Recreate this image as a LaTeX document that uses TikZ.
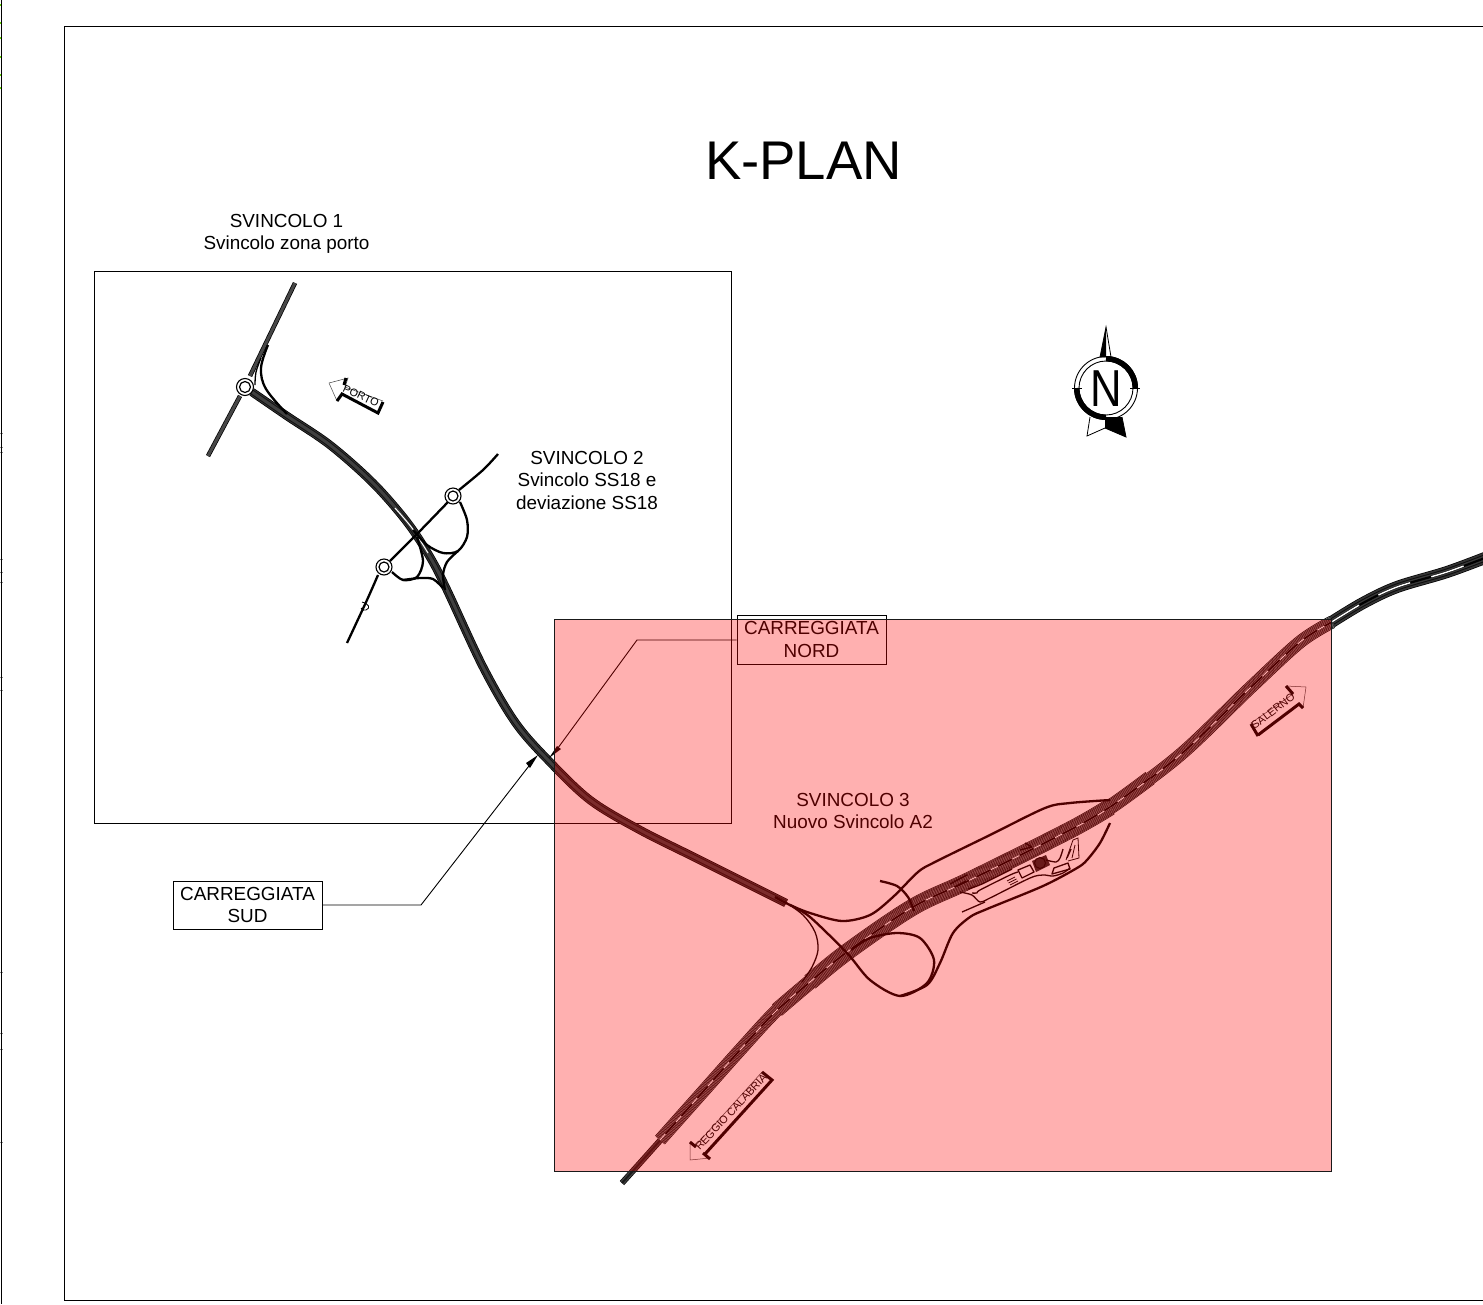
\documentclass[tikz,border=0pt]{standalone}
\usepackage{fontspec}
\setmainfont{Liberation Sans}
\colorlet{gapline}{black!40}
\tikzset{
  frame/.style={draw=black,line width=1pt},
  lbl/.style={align=center,font=\fontsize{18.9}{22.5}\selectfont,inner sep=0pt},
  signtxt/.style={inner sep=0pt,font=\fontsize{10.8}{12}\selectfont},
  thin edge/.style={draw=black!75,line width=.5pt},
  thick edge/.style={draw=black,line width=3pt},
  ramp/.style={draw=black,line width=2.3pt,line join=round},
  ramp2/.style={draw=black,line width=1.3pt,line join=round},
  fine/.style={draw=black,line width=.8pt},
  leader/.style={draw=black,line width=.9pt},
  leadtip/.style={fill=black},
  rbout/.style={draw=black,line width=1.1pt,fill=white},
}
% stripes: concentric dark and light strokes along a path
\newcommand{\stripes}[2]{%
  \foreach \w/\c in {#2}{\draw[line width=\w pt,color=\c,line cap=butt,line join=round] #1;}}
\newcommand{\mainpath}{plot[smooth,tension=.55] coordinates {(252,392) (287,416) (330,445) (373,483) (407,522) (430,557) (447,590) (483,667) (515,722) (548,760) (590,800) (640,830) (700,860) (786,903)}}
\newcommand{\hwtail}{plot[smooth,tension=.55] coordinates {(622,1183) (640,1163) (665,1135)}}
\newcommand{\hwred}{plot[smooth,tension=.55] coordinates {(660,1140) (700,1095) (740,1050) (777,1010) (810,982) (847,952) (913,907) (970,880) (1070,830) (1110,807) (1180,755) (1250,688) (1300,642) (1332,622)}}
\newcommand{\hwwide}{plot[smooth,tension=.55] coordinates {(777,1010) (810,982) (847,952) (913,907) (970,880) (1070,830) (1110,807) (1150,778)}}
\newcommand{\hwmid}{plot[smooth,tension=.55] coordinates {(810,982) (847,952) (913,907) (970,880) (1070,830) (1110,807)}}
\newcommand{\hweast}{plot[smooth,tension=.55] coordinates {(1330,623) (1363,603) (1397,587) (1447,572) (1490,556)}}
\begin{document}
\begin{tikzpicture}[x=1pt,y=-1pt]
\useasboundingbox (0,0) rectangle (1483,1304);
\clip (0,0) rectangle (1483,1304);
\fill[white] (0,0) rectangle (1483,1304);
% sheet edge and ticks
\foreach \y in {5,23,38,57,75,88}{\draw[color=green!55!yellow!85!black,line width=1.2pt] (0,\y) -- (1,\y);}
\foreach \y in {433,447,452,559,572,582,677,690,972,1033,1049,1142}{\draw[color=black!45,line width=.8pt] (0,\y) -- (3,\y);}
\draw[black,line width=1.6pt] (1.4,0) -- (1.4,1304);
% frames
\draw[frame] (1490,26) -- (64,26) -- (64,1300.5) -- (1490,1300.5);
\draw[frame] (94,271) rectangle (731,823);
% roads of svincolo 1 and 2
\stripes{(295,283) -- (250,376)}{4.5/black,3/black!72}
\stripes{(240,396) -- (208,456)}{4.5/black,3/black!72}
\stripes{\mainpath}{8.5/black,7/black!80,5/black!92,3/black!75}
\stripes{plot[smooth,tension=.5] coordinates {(395,508) (412,528) (428,553)}}{1/white}
\draw[ramp] plot[smooth,tension=.6] coordinates {(268,345) (261,368) (266,389) (287,414)};
\draw[ramp2] plot[smooth,tension=.6] coordinates {(261,358) (256,372) (255,385)};
\draw[rbout] (245,387) circle (8.5);
\draw[black,line width=1.2pt] (245,387) circle (5.5);
% svincolo 2
\draw[ramp] plot[smooth,tension=.5] coordinates {(390,561) (417,534) (448,502)};
\draw[ramp] plot[smooth,tension=.5] coordinates {(459,490) (483,470) (498,454)};
\draw[ramp] plot[smooth,tension=.5] coordinates {(378,575) (367,600) (347,643)};
\draw[ramp] plot[smooth,tension=.5] coordinates {(460,502) (467,520) (467,537) (458,551) (443,553) (427,545) (413,530)};
\draw[ramp] plot[smooth,tension=.5] coordinates {(392,572) (403,580) (417,577) (423,561) (417,537)};
\draw[ramp] plot[smooth,tension=.5] coordinates {(403,580) (420,578) (433,579) (443,588)};
\draw[ramp] plot[smooth,tension=.5] coordinates {(458,551) (447,562) (443,575) (445,590)};
\draw[fine] (362,602) .. controls (369,604) and (371,608) .. (366,610) .. controls (364,611) and (362,610) .. (361,608);
\draw[rbout] (453,496) circle (8);
\draw[black,line width=1.2pt] (453,496) circle (5);
\draw[rbout] (384,567) circle (8);
\draw[black,line width=1.2pt] (384,567) circle (5);
% A2 carriageways
\stripes{\hwtail}{6/black,4.6/black!75,2/black!90}
\stripes{\hweast}{12/black,10.6/black!80,7/black!95,5/black!78,2.2/black}
\draw[white,line width=1.4pt,dash pattern=on 34pt off 22pt] \hweast;
\stripes{\hwred}{13/black,11.6/gapline,10.6/black,9.4/gapline,8.4/black,7.2/gapline,6.2/black,5/gapline,4/black,2.8/gapline,1.8/black}
\stripes{\hwwide}{15/black,13.8/gapline,13/black,11.6/gapline,10.6/black,9.4/gapline,8.4/black,7.2/gapline,6.2/black,5/gapline,4/black,2.8/gapline,1.8/black}
\stripes{\hwmid}{17/black,15.8/gapline,15/black,13.8/gapline,13/black,11.6/gapline,10.6/black,9.4/gapline,8.4/black,7.2/gapline,6.2/black,5/gapline,4/black,2.8/gapline,1.8/black}
\draw[white,line width=1pt,dash pattern=on 8pt off 16pt] \hwred;
% interchange ramps
\draw[ramp] plot[smooth,tension=.5] coordinates {(775,897) (790,905) (810,913) (842,921) (870,915) (893,897) (918,872) (935,862) (990,835) (1045,808) (1070,803) (1110,800)};
\draw[ramp2] plot[smooth,tension=.55] coordinates {(785,902) (803,915) (815,932) (818,950) (812,967) (802,982)};
\draw[ramp] plot[smooth,tension=.5] coordinates {(790,905) (810,917) (847,953) (870,980) (900,996) (927,983) (934,960) (920,938) (897,933) (870,938) (851,950)};
\draw[ramp] plot[smooth,tension=.5] coordinates {(900,996) (927,985) (940,963) (953,933) (970,917) (987,909) (1043,886) (1077,868) (1087,860) (1100,843) (1110,823)};
\draw[ramp] plot[smooth,tension=.5] coordinates {(880,881) (897,886) (908,897) (914,911)};
% service area
\draw[ramp2] (950,884) -- (967,875);
\draw[ramp2] (954,887) -- (966,881);
\draw[ramp2] (962,912) -- (985,902);
\draw[ramp2] plot[smooth,tension=.5] coordinates {(960,892) (972,895) (980,902) (990,898) (1030,878) (1043,875) (1053,876) (1063,873) (1070,868)};
\draw[ramp2] plot[smooth,tension=.5] coordinates {(972,893) (977,893) (980,890) (1010,875) (1018,872)};
\draw[ramp2] plot[smooth,tension=.5] coordinates {(968,889) (982,884) (1012,869)};
\foreach \i in {0,1,2}{\draw[fine] (1007+\i*1.5,881+\i*2) -- (1015+\i*1.5,877+\i*2);}
\draw[ramp2] (1018,870) -- (1030,865) -- (1034,872) -- (1022,878) -- cycle;
\fill[black!85] (1032,861) -- (1046,855) -- (1050,865) -- (1036,872) -- cycle;
\draw[black,line width=1pt] (1040,863) circle (5.5);
\draw[ramp2] plot[smooth,tension=.5] coordinates {(1046,860) (1056,862) (1060,858) (1063,849)};
\draw[ramp2] (1052,874) -- (1054,868) -- (1068,863) -- (1070,869) -- cycle;
\draw[fine] (1066,860) -- (1073,840) -- (1078,838) -- (1079,858) -- (1068,861);
\draw[fine] (1072,858) -- (1075,845);
\draw[ramp2] (1067,858) -- (1071,849);
\draw[ramp2] (1020,850) -- (1032,847) -- (1025,843);
% north arrow
\draw[black,line width=.8pt,fill=white] (1106,327) -- (1111,357) -- (1100,357) -- cycle;
\fill[black] (1106,327) -- (1106,357) -- (1100,357) -- cycle;
\draw[black,line width=.8pt,fill=white] (1090,417) -- (1087,436) -- (1105,428) -- (1126,437) -- (1122,417);
\fill[black] (1105,417) -- (1105,428) -- (1126,437) -- (1122,417) -- cycle;
\draw[black,line width=.9pt] (1106,388) circle (31.5);
\draw[black,line width=.9pt] (1106,388) circle (27);
\draw[black,line width=5.4pt] (1106,358.7) arc[start angle=-90,end angle=0,radius=29.3];
\draw[black,line width=5.4pt] (1076.7,388) arc[start angle=180,end angle=90,radius=29.3];
\draw[black,line width=1pt] (1072,388) -- (1082,388) (1130,388) -- (1140,388);
\node[inner sep=0pt,xscale=.84,font=\fontsize{52}{52}\selectfont] (north) at (1106,388.5) {N};
% direction signs
\draw[thin edge] (329,383) -- (348,378) -- (345,387) -- (383,401);
\draw[thin edge] (329,383) -- (337,401);
\draw[thick edge] (337,401) -- (342,394) -- (378,413) -- (383,402);
\draw[thick edge] (346,378) -- (344,385);
\node[signtxt,rotate=-25] (porto) at (361,396) {PORTO};
\draw[thin edge] (1286,686) -- (1306,687) -- (1303,708);
\draw[thin edge] (1286,686) -- (1293,694) -- (1251,723) -- (1258,736);
\draw[thick edge] (1258,735) -- (1299,704) -- (1303,708);
\draw[thick edge] (1251,724) -- (1258,736);
\draw[thick edge] (1286,686) -- (1293,694);
\node[signtxt,rotate=38] (salerno) at (1273,711) {SALERNO};
\draw[thin edge] (710,1158) -- (690,1160) -- (690,1142);
\draw[thin edge] (696,1145) -- (762,1072);
\draw[thick edge] (705,1154) -- (772,1080) -- (762,1072);
\draw[thick edge] (690,1142) -- (696,1147);
\draw[thick edge] (703,1153) -- (710,1159);
\node[signtxt,rotate=47] (reggio) at (731,1112) {REGGIO CALABRIA};
% labels
\node[inner sep=0pt,font=\fontsize{54.5}{54.5}\selectfont] (title) at (803.5,161) {K-PLAN};
\node[lbl] (sv1) at (286.5,234) {SVINCOLO 1\\Svincolo zona porto};
\node[lbl] (sv2) at (587,480) {SVINCOLO 2\\Svincolo SS18 e\\deviazione SS18};
\node[lbl] (sv3) at (853,811) {SVINCOLO 3\\Nuovo Svincolo A2};
\node[lbl,draw=black,line width=.9pt,minimum width=149pt,minimum height=49pt] (nord) at (811.5,639.5) {\raisebox{-2pt}{CARREGGIATA}\\\raisebox{-2pt}{NORD}};
\node[lbl,draw=black,line width=.9pt,minimum width=149pt,minimum height=48pt] (sud) at (247.5,905) {CARREGGIATA\\SUD};
% leaders
\coordinate (nordknee) at (637,640);
\coordinate (nordtip) at (555,752);
\coordinate (sudknee) at (421,905);
\coordinate (sudtip) at (532,762);
\draw[leader] (nord.west |- nordknee) -- (nordknee) -- (nordtip);
\draw[leader] (sud.east |- sudknee) -- (sudknee) -- (sudtip);
\fill[leadtip] (549,758) -- (557,746) -- (561,749) -- cycle;
\fill[leadtip] (538,755) -- (526,763) -- (530,768) -- cycle;
% translucent red sheet
\fill[red,fill opacity=.31] (554,619) rectangle (1331,1171);
\draw[frame,black!90] (554,619) rectangle (1331,1171);
\end{tikzpicture}
\end{document}
